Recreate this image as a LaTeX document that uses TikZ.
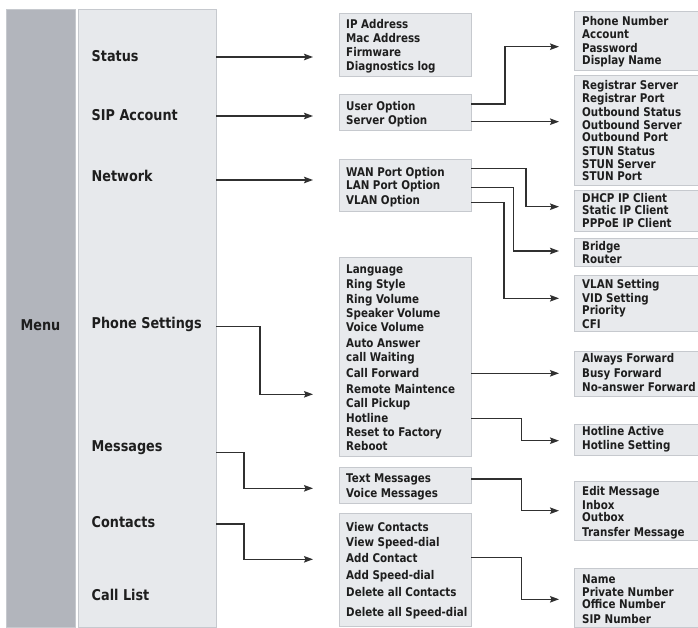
\documentclass[tikz,border=0pt]{standalone}
\usepackage{fontspec}
\newfontfamily\vf{DejaVu Sans}[FakeStretch=0.86]
\usetikzlibrary{arrows.meta,fit}
\definecolor{darkcol}{HTML}{B2B5BC}
\definecolor{lightcol}{HTML}{E7E9EC}
\definecolor{boxfill}{HTML}{E8EAED}
\definecolor{boxline}{HTML}{C6C9CE}
\definecolor{ink}{HTML}{1E1E1E}
\definecolor{wire}{HTML}{303030}
\tikzset{
  colbox/.style={draw=boxline, line width=0.6pt, inner sep=0pt, outer sep=0pt},
  sbox/.style={draw=boxline, fill=boxfill, line width=0.6pt, inner sep=0pt, outer sep=0pt},
  mainlbl/.style={anchor=base west, yshift=-5.3pt, inner sep=0pt, text=ink,
    font=\vf\bfseries\fontsize{14.9}{16}\selectfont},
  sublbl/.style={anchor=base west, yshift=-4.3pt, inner sep=0pt, text=ink,
    font=\vf\bfseries\fontsize{12}{13}\selectfont},
  arr/.style={draw=wire, line width=1.3pt, -{Stealth[length=9pt,width=6.5pt,inset=1.5pt]}},
}
\begin{document}
\begin{tikzpicture}[x=1pt,y=-1pt]
\useasboundingbox (0,0) rectangle (698,628);
\fill[white] (0,0) rectangle (698,628);
% columns
\node[colbox, fill=darkcol, fit={(6,9.3)(75,627.5)}] (mdark) {};
\node[colbox, fill=lightcol, fit={(78,9.3)(216,627.5)}] (mcol) {};
\node[mainlbl, anchor=base] (lMenu) at (40.5,325) {Menu};
\node[mainlbl] (lStatus) at (91.5,56.7) {Status};
\node[mainlbl] (lSip) at (91.5,115) {SIP Account};
\node[mainlbl] (lNet) at (91.5,176.7) {Network};
\node[mainlbl] (lPhone) at (91.5,323.3) {Phone Settings};
\node[mainlbl] (lMsg) at (91.5,446) {Messages};
\node[mainlbl] (lCont) at (91.5,521.7) {Contacts};
\node[mainlbl] (lCall) at (91.5,595) {Call List};
% middle boxes
\node[sbox, fit={(339,13.3)(471,76.7)}] (bA) {};
\node[sublbl] (tIP) at (346,24.3) {IP Address};
\node[sublbl] (tMac) at (346,38.7) {Mac Address};
\node[sublbl] (tFw) at (346,52.7) {Firmware};
\node[sublbl] (tDiag) at (346,66) {Diagnostics log};
\node[sbox, fit={(339,94.3)(471,130)}] (bB) {};
\node[sublbl] (tUser) at (346,106.7) {User Option};
\node[sublbl] (tServer) at (346,120) {Server Option};
\node[sbox, fit={(339,159)(471,211)}] (bC) {};
\node[sublbl] (tWan) at (346,172) {WAN Port Option};
\node[sublbl] (tLan) at (346,185.3) {LAN Port Option};
\node[sublbl] (tVlan) at (346,200) {VLAN Option};
\node[sbox, fit={(339,257.7)(471,456)}] (bPS) {};
\node[sublbl] (tLang) at (346,269.3) {Language};
\node[sublbl] (tRS) at (346,284.3) {Ring Style};
\node[sublbl] (tRV) at (346,299) {Ring Volume};
\node[sublbl] (tSV) at (346,313.3) {Speaker Volume};
\node[sublbl] (tVV) at (346,327.3) {Voice Volume};
\node[sublbl] (tAA) at (346,342.7) {Auto Answer};
\node[sublbl] (tCW) at (346,357.3) {call Waiting};
\node[sublbl] (tCF) at (346,373.3) {Call Forward};
\node[sublbl] (tRM) at (346,389.3) {Remote Maintence};
\node[sublbl] (tCP) at (346,403.3) {Call Pickup};
\node[sublbl] (tHot) at (346,418.3) {Hotline};
\node[sublbl] (tRF) at (346,432.3) {Reset to Factory};
\node[sublbl] (tRB) at (346,445.7) {Reboot};
\node[sbox, fit={(339,467.7)(471,503.3)}] (bW) {};
\node[sublbl] (tTM) at (346,478.3) {Text Messages};
\node[sublbl] (tVM) at (346,493.3) {Voice Messages};
\node[sbox, fit={(339,513.3)(471,626.7)}] (bY) {};
\node[sublbl] (tVC) at (346,527.3) {View Contacts};
\node[sublbl] (tVS) at (346,542.3) {View Speed-dial};
\node[sublbl] (tAC) at (346,557.7) {Add Contact};
\node[sublbl] (tAS) at (346,575) {Add Speed-dial};
\node[sublbl] (tDC) at (346,592.3) {Delete all Contacts};
\node[sublbl] (tDS) at (346,612.3) {Delete all Speed-dial};
% right boxes
\node[sbox, fit={(574,11.7)(698,70)}] (bP) {};
\node[sublbl] (tPN) at (582,21.7) {Phone Number};
\node[sublbl] (tAcc) at (582,34.3) {Account};
\node[sublbl] (tPw) at (582,48.3) {Password};
\node[sublbl] (tDN) at (582,60) {Display Name};
\node[sbox, fit={(574,75)(698,185)}] (bQ) {};
\node[sublbl] (tRgS) at (582,85) {Registrar Server};
\node[sublbl] (tRgP) at (582,98.7) {Registrar Port};
\node[sublbl] (tOSt) at (582,112) {Outbound Status};
\node[sublbl] (tOSe) at (582,125.2) {Outbound Server};
\node[sublbl] (tOP) at (582,137.6) {Outbound Port};
\node[sublbl] (tSSt) at (582,150.9) {STUN Status};
\node[sublbl] (tSSe) at (582,164) {STUN Server};
\node[sublbl] (tSP) at (582,176.7) {STUN Port};
\node[sbox, fit={(574,190)(698,231.7)}] (bR) {};
\node[sublbl] (tDH) at (582,198.7) {DHCP IP Client};
\node[sublbl] (tSI) at (582,210.7) {Static IP Client};
\node[sublbl] (tPP) at (582,223.7) {PPPoE IP Client};
\node[sbox, fit={(574,238.3)(698,266)}] (bS) {};
\node[sublbl] (tBr) at (582,246.7) {Bridge};
\node[sublbl] (tRo) at (582,259.3) {Router};
\node[sbox, fit={(574,275)(698,331.7)}] (bT) {};
\node[sublbl] (tVLS) at (582,284) {VLAN Setting};
\node[sublbl] (tVID) at (582,297.7) {VID Setting};
\node[sublbl] (tPr) at (582,310) {Priority};
\node[sublbl] (tCFI) at (582,324.3) {CFI};
\node[sbox, fit={(574,351.7)(698,396)}] (bU) {};
\node[sublbl] (tAF) at (582,358.3) {Always Forward};
\node[sublbl] (tBF) at (582,372.7) {Busy Forward};
\node[sublbl] (tNF) at (582,387.3) {No-answer Forward};
\node[sbox, fit={(574,424)(698,455)}] (bV) {};
\node[sublbl] (tHA) at (582,431) {Hotline Active};
\node[sublbl] (tHS) at (582,445) {Hotline Setting};
\node[sbox, fit={(574,481.7)(698,540)}] (bX) {};
\node[sublbl] (tEM) at (582,491) {Edit Message};
\node[sublbl] (tIn) at (582,505) {Inbox};
\node[sublbl] (tOut) at (582,516.7) {Outbox};
\node[sublbl] (tTr) at (582,531.7) {Transfer Message};
\node[sbox, fit={(574,568.3)(698,627)}] (bZ) {};
\node[sublbl] (tNm) at (582,579.3) {Name};
\node[sublbl] (tPrN) at (582,592.3) {Private Number};
\node[sublbl] (tOfN) at (582,604.3) {Office Number};
\node[sublbl] (tSIP) at (582,619.3) {SIP Number};
% menu arrows
\draw[arr, shorten >=26pt] (mcol.east |- 0,57) -- (bA.west |- 0,57);
\draw[arr, shorten >=26pt] (mcol.east |- 0,116) -- (bB.west |- 0,116);
\draw[arr, shorten >=26pt] (mcol.east |- 0,180) -- (bC.west |- 0,180);
\draw[arr, shorten >=26pt] (mcol.east |- 0,326.7) -| (260,394.3) -- (bPS.west |- 0,394.3);
\draw[arr, shorten >=26pt] (mcol.east |- 0,452.3) -| (244,488.3) -- (bW.west |- 0,488.3);
\draw[arr, shorten >=26pt] (mcol.east |- 0,524) -| (244,559.3) -- (bY.west |- 0,559.3);
% sub arrows
\draw[arr, shorten >=15pt] (bB.east |- 0,104) -| (505,46.7) -- (bP.west |- 0,46.7);
\draw[arr, shorten >=15pt] (bB.east |- 0,121.7) -- (bQ.west |- 0,121.7);
\draw[arr, shorten >=15pt] (bC.east |- 0,168.3) -| (526,206.7) -- (bR.west |- 0,206.7);
\draw[arr, shorten >=15pt] (bC.east |- 0,187.7) -| (513.3,251) -- (bS.west |- 0,251);
\draw[arr, shorten >=15pt] (bC.east |- 0,202.7) -| (504,298.3) -- (bT.west |- 0,298.3);
\draw[arr, shorten >=15pt] (bPS.east |- 0,373.3) -- (bU.west |- 0,373.3);
\draw[arr, shorten >=15pt] (bPS.east |- 0,418.3) -| (521.7,440.7) -- (bV.west |- 0,440.7);
\draw[arr, shorten >=15pt] (bW.east |- 0,479) -| (521.7,510.7) -- (bX.west |- 0,510.7);
\draw[arr, shorten >=15pt] (bY.east |- 0,557.7) -| (521.7,599.3) -- (bZ.west |- 0,599.3);
\end{tikzpicture}
\end{document}
